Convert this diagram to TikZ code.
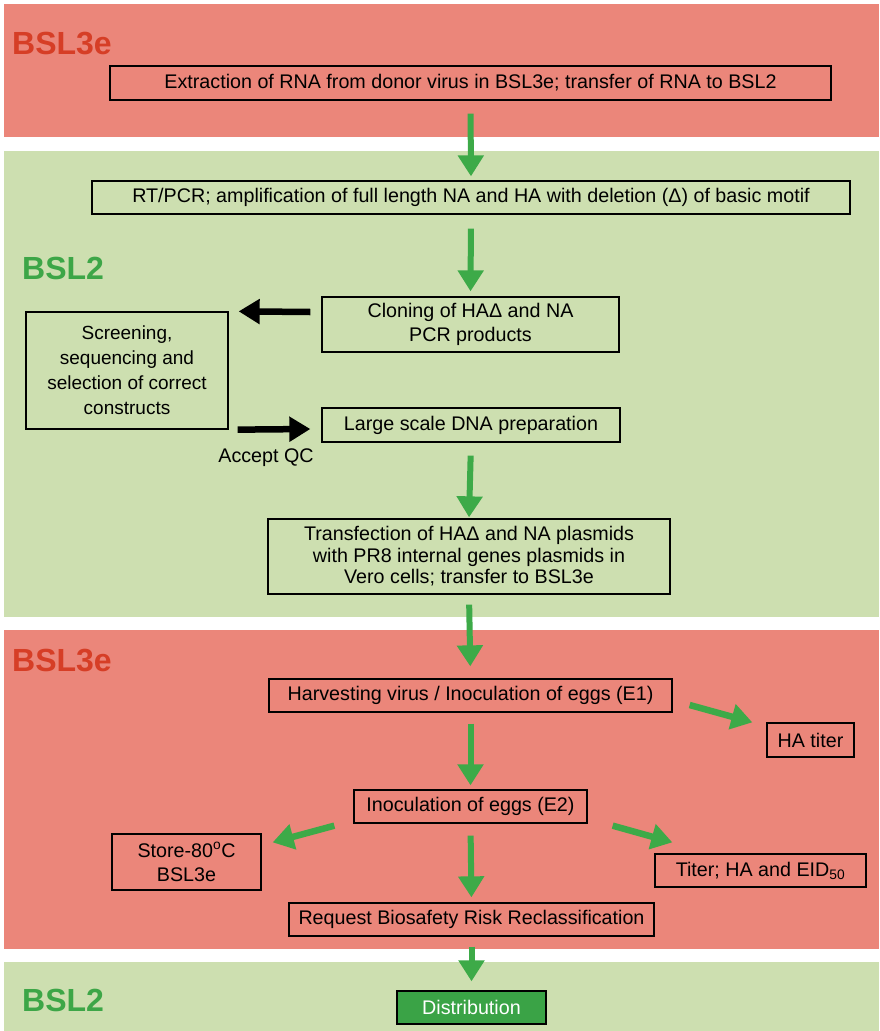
\documentclass[tikz,border=0pt]{standalone}
\usepackage{fontspec}
\setmainfont{Liberation Sans}
\usetikzlibrary{arrows.meta,calc}
\definecolor{bandred}{HTML}{EB867A}
\definecolor{bandgreen}{HTML}{CDDFB0}
\definecolor{labred}{HTML}{D63E26}
\definecolor{labgreen}{HTML}{3DA647}
\definecolor{arrgreen}{HTML}{3DAA48}
\definecolor{distgreen}{HTML}{3AA346}
\begin{document}
\begin{tikzpicture}[x=1pt,y=-1pt,
  box/.style={draw=black, line width=1.3pt, align=center, inner sep=0pt,
    font=\fontsize{19.7}{21}\selectfont},
  blabel/.style={anchor=west, inner sep=0pt, font=\fontsize{32}{32}\selectfont\bfseries},
  garrow/.style={draw=arrgreen, line width=6pt, -{Triangle[width=25pt 0,length=21pt 0]}},
  gdiag/.style={draw=arrgreen, line width=6.5pt, -{Triangle[width=25pt 0,length=21pt 0]}},
  barrow/.style={draw=black, line width=6.5pt, -{Triangle[width=24pt 0,length=21pt 0]}}]
\useasboundingbox (0,0) rectangle (879,1031);
\fill[white] (0,0) rectangle (879,1031);
% bands
\fill[bandred] (4,4) rectangle (879,137);
\fill[bandgreen] (4,151) rectangle (879,617);
\fill[bandred] (4,630) rectangle (879,949);
\fill[bandgreen] (4,962) rectangle (879,1031);
% band labels
\node[blabel, text=labred] (l1) at (12,44) {BSL3e};
\node[blabel, text=labgreen] (l2) at (22,268) {BSL2};
\node[blabel, text=labred] (l3) at (12,660) {BSL3e};
\node[blabel, text=labgreen] (l4) at (22,1000) {BSL2};
% boxes
\node[box, minimum width=721, minimum height=34] (ext) at (470.5,83)
  {Extraction of RNA from donor virus in BSL3e; transfer of RNA to BSL2};
\node[box, minimum width=758, minimum height=33] (rt) at (471,197.5)
  {RT/PCR; amplification of full length NA and HA with deletion (Δ) of basic motif};
\node[box, minimum width=297, minimum height=55, font=\fontsize{19.7}{24}\selectfont] (clon) at (470.5,324.5)
  {Cloning of HAΔ and NA\\PCR products};
\node[box, minimum width=202, minimum height=117, font=\fontsize{19}{25}\selectfont] (scr) at (127,370.5)
  {Screening,\\sequencing and\\selection of correct\\constructs};
\node[box, minimum width=298, minimum height=34] (large) at (471,425)
  {Large scale DNA preparation};
\node[inner sep=0pt, font=\fontsize{19.7}{21}\selectfont] (qc) at (266,458) {Accept QC};
\node[box, minimum width=402, minimum height=75, font=\fontsize{19.7}{21.5}\selectfont] (trans) at (469,556.5)
  {Transfection of HAΔ and NA plasmids\\with PR8 internal genes plasmids in\\Vero cells; transfer to BSL3e};
\node[box, minimum width=403, minimum height=33] (harv) at (470.5,695.5)
  {Harvesting virus / Inoculation of eggs (E1)};
\node[box, minimum width=87, minimum height=34] (hat) at (810.5,740)
  {HA titer};
\node[box, minimum width=233, minimum height=33] (e2) at (470.5,806.5)
  {Inoculation of eggs (E2)};
\node[box, minimum width=149, minimum height=56, font=\fontsize{19.7}{24}\selectfont] (store) at (186.5,862)
  {Store-80\textsuperscript{o}C\\BSL3e};
\node[box, minimum width=211, minimum height=33] (titer) at (760.5,870.5)
  {Titer; HA and EID\textsubscript{50}};
\node[box, minimum width=365, minimum height=33] (req) at (471.5,919.5)
  {Request Biosafety Risk Reclassification};
\node[box, fill=distgreen, text=white, minimum width=149, minimum height=33] (dist) at (471.5,1007.5)
  {Distribution};
% green vertical arrows
\draw[garrow, shorten <=13pt, shorten >=4pt] (ext.south) -- (rt.north);
\draw[garrow, shorten <=14pt, shorten >=5pt] (rt.south) -- (clon.north);
\draw[garrow, shorten <=13pt, shorten >=1pt] (large.south) -- (trans.north);
\draw[garrow, shorten <=10pt, shorten >=12pt] (trans.south) -- (harv.north);
\draw[garrow, shorten <=11pt, shorten >=4pt] (harv.south) -- (e2.north);
\draw[garrow, shorten <=12pt, shorten >=5pt] (e2.south) -- (req.north);
\draw[garrow, shorten <=10pt, shorten >=9pt] (req.south) -- (dist.north);
% green diagonal arrows
\draw[gdiag] ($(harv.east)+(17,9.5)$) -- ($(hat.north west)+(-14,0)$);
\draw[gdiag] ($(e2.south west)+(-19,2)$) -- ($(store.north east)+(11,9)$);
\draw[gdiag] ($(e2.south east)+(25,2)$) -- ($(titer.north west)+(18,-11)$);
% black arrows
\draw[barrow] ($(clon.west)+(-11,-12.5)$) -- ($(scr.north east)+(10,0)$);
\draw[barrow] ($(scr.south east)+(9,0)$) -- ($(large.west)+(-11,4)$);
\end{tikzpicture}
\end{document}
